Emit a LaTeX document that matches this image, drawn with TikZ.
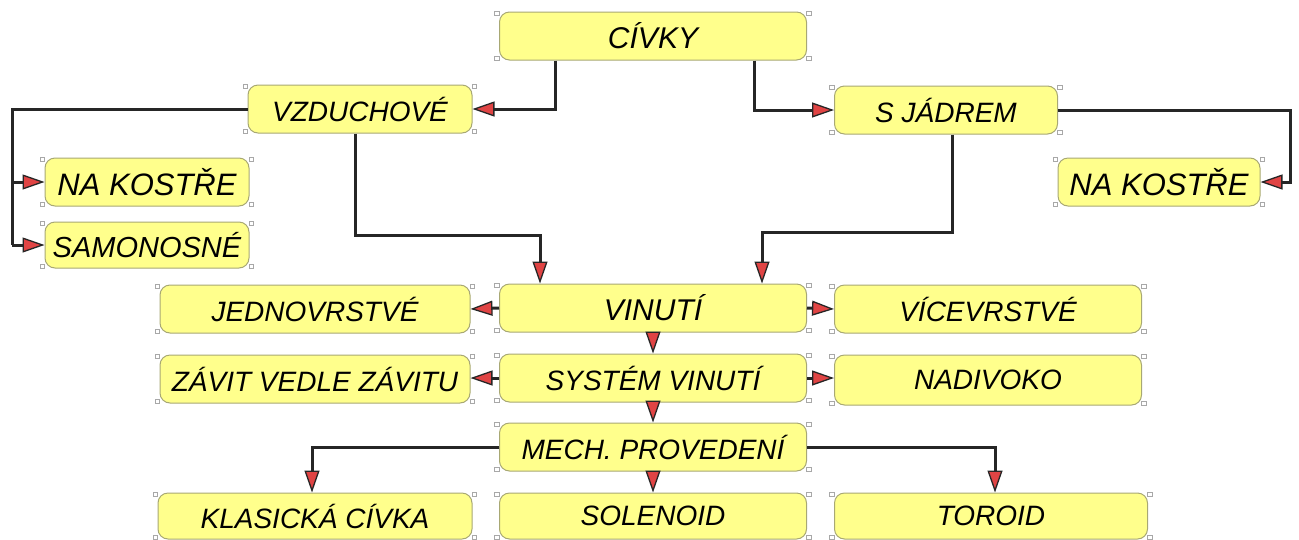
\documentclass[tikz,border=0pt]{standalone}
\usepackage{fontspec}
\setmainfont{Liberation Sans}
\usetikzlibrary{arrows.meta}
\definecolor{boxfill}{HTML}{FFFF8C}
\definecolor{boxline}{HTML}{A8A874}
\definecolor{tipred}{HTML}{E04444}
\definecolor{linec}{HTML}{262626}
\definecolor{handle}{HTML}{A8A8A8}
\tikzset{
  box/.style={draw=boxline, line width=1pt, fill=boxfill, rounded corners=10pt,
    minimum height=48pt, inner sep=0pt, font=\fontsize{28}{30}\selectfont\itshape},
  bigbox/.style={box, font=\fontsize{30}{32}\selectfont\itshape},
  smallbox/.style={box, font=\fontsize{31}{33}\selectfont\itshape},
  conn/.style={draw=linec, line width=3pt,
    -{Triangle[length=22pt,width=15pt,fill=tipred,line width=1.3pt]}},
  plain/.style={draw=linec, line width=3pt},
  hnd/.style={draw=handle, fill=white, line width=0.6pt, minimum size=4.5pt, inner sep=0pt},
}
\begin{document}
\begin{tikzpicture}[x=1pt,y=-1pt]
\useasboundingbox (0,0) rectangle (1299,539);
% boxes
\node[bigbox, minimum width=307pt] (civky) at (653,36) {CÍVKY};
\node[box, minimum width=224pt] (vzduch) at (360,109) {VZDUCHOVÉ};
\node[box, minimum width=223pt] (sjadrem) at (946,110) {S JÁDREM};
\node[smallbox, minimum width=204pt] (nak1) at (147,182) {NA KOSTŘE};
\node[box, font=\fontsize{29}{31}\selectfont\itshape, minimum width=204pt, minimum height=46pt] (samo) at (147,245) {SAMONOSNÉ};
\node[smallbox, minimum width=202pt] (nak2) at (1159,182) {NA KOSTŘE};
\node[bigbox, minimum width=307pt] (vinuti) at (653,308) {VINUTÍ};
\node[box, minimum width=310pt] (jedno) at (315,309) {JEDNOVRSTVÉ};
\node[box, minimum width=307pt] (vice) at (988,309) {VÍCEVRSTVÉ};
\node[box, minimum width=307pt] (system) at (653,378) {SYSTÉM VINUTÍ};
\node[box, minimum width=310pt] (zavit) at (315,379) {ZÁVIT VEDLE ZÁVITU};
\node[box, minimum width=307pt, minimum height=50pt] (nadiv) at (988,380) {NADIVOKO};
\node[box, minimum width=307pt] (mech) at (653,447) {MECH. PROVEDENÍ};
\node[box, minimum width=314pt, minimum height=46pt] (klas) at (315,516) {KLASICKÁ CÍVKA};
\node[box, minimum width=307pt, minimum height=46pt] (solen) at (653,516) {SOLENOID};
\node[box, minimum width=313pt, minimum height=46pt] (toroid) at (991,516) {TOROID};
% selection handles at the corners
\foreach \b in {civky,vzduch,sjadrem,nak1,samo,nak2,vinuti,jedno,vice,system,zavit,nadiv,mech,klas,solen,toroid}{
  \node[hnd] at ([shift={(-2pt,-2pt)}]\b.north west) {};
  \node[hnd] at ([shift={(2pt,-2pt)}]\b.north east) {};
  \node[hnd] at ([shift={(-2pt,2pt)}]\b.south west) {};
  \node[hnd] at ([shift={(2pt,2pt)}]\b.south east) {};
}
% helper coordinates
\coordinate (lv1) at (12,182);
\coordinate (lv2) at (12,245);
\coordinate (rv) at (1290,182);
\coordinate (c1) at (540,235);
\coordinate (c2) at (762,232);
% connectors
\draw[conn] ([xshift=-98pt]civky.south) |- (vzduch.east);
\draw[conn] ([xshift=101pt]civky.south) |- (sjadrem.west);
\draw[plain] (vzduch.west) -| (lv2);
\draw[conn] (lv1) -- (nak1.west);
\draw[conn] (lv2) -- (samo.west);
\draw[conn] (sjadrem.east) -| (rv) -- (nak2.east);
\draw[conn] ([xshift=-5pt]vzduch.south) |- (c1) -- (c1 |- vinuti.north);
\draw[conn] ([xshift=6pt]sjadrem.south) |- (c2) -- (c2 |- vinuti.north);
\draw[conn] (vinuti.west) -- (jedno.east);
\draw[conn] (vinuti.east) -- (vice.west);
\draw[conn] (vinuti.south) -- (system.north);
\draw[conn] (system.west) -- (system.west -| zavit.east);
\draw[conn] (system.east) -- (system.east -| nadiv.west);
\draw[conn] (system.south) -- (mech.north);
\draw[conn] (mech.west) -| ([xshift=-3pt]klas.north);
\draw[conn] (mech.south) -- (solen.north);
\draw[conn] (mech.east) -| ([xshift=4pt]toroid.north);
\end{tikzpicture}
\end{document}
